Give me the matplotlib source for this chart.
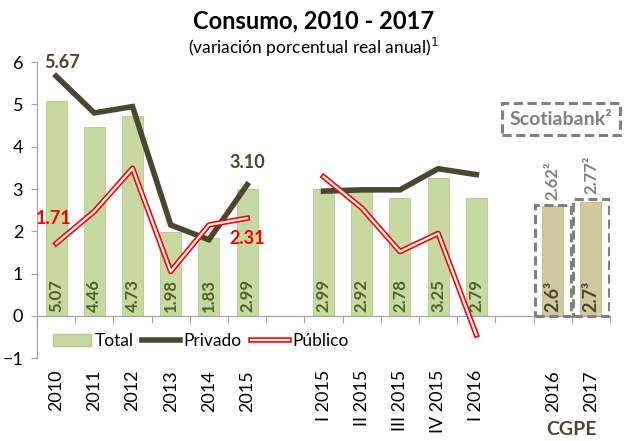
import matplotlib
matplotlib.use("Agg")
import matplotlib.pyplot as plt
from matplotlib.lines import Line2D
from matplotlib.patches import Patch
import numpy as np

plt.rcParams['font.family'] = ['Lato', 'DejaVu Sans']

# data
categories = ["2010", "2011", "2012", "2013", "2014", "2015", "",
              "I 2015", "II 2015", "III 2015", "IV 2015", "I 2016", "",
              "2016", "2017"]
total = [5.07, 4.46, 4.73, 1.98, 1.83, 2.99, None,
         2.99, 2.92, 2.78, 3.25, 2.79, None, None, None]
total_labels = ["5.07", "4.46", "4.73", "1.98", "1.83", "2.99", "",
                "2.99", "2.92", "2.78", "3.25", "2.79", "", "", ""]
privado_anual = [5.67, 4.80, 4.95, 2.15, 1.80, 3.10]
publico_anual = [1.71, 2.47, 3.49, 1.05, 2.15, 2.31]
privado_trim = [2.95, 2.98, 2.98, 3.48, 3.34]
publico_trim = [3.29, 2.55, 1.52, 1.95, -0.45]
cgpe = [2.6, 2.7]
cgpe_labels = ["2.6³", "2.7³"]
scotia = [2.62, 2.77]
scotia_labels = ["2.62²", "2.77²"]

GREEN = "#c6d9a0"
TAN = "#d2c8a0"
OLIVE = "#4a4630"
LABEL_GREEN = "#4f6228"
GRAY = "#808080"

fig = plt.figure(figsize=(6.27, 4.41), dpi=100)
ax = fig.add_axes([0.059, 0.188, 0.914, 0.671])

x = np.arange(len(categories))

# Total bars
for i, v in enumerate(total):
    if v is None:
        continue
    ax.bar(x[i], v, width=0.55, color=GREEN, edgecolor="#b5c98a", linewidth=0.6, zorder=2)
    ax.text(x[i], 0.08, total_labels[i], rotation=90, ha="center", va="bottom",
            fontsize=12, fontweight="bold", color=LABEL_GREEN, zorder=5)

# CGPE bars + Scotiabank dashed boxes
cg_x = x[13:15]
ax.bar(cg_x, cgpe, width=0.55, color=TAN, edgecolor="#bfb68e", linewidth=0.6, zorder=2)
ax.bar(cg_x, scotia, width=0.95, fill=False, edgecolor=GRAY, linestyle=(0, (3, 1.5)),
       linewidth=2.2, zorder=3)
for xi, lab in zip(cg_x, cgpe_labels):
    ax.text(xi, 0.08, lab, rotation=90, ha="center", va="bottom",
            fontsize=13, fontweight="bold", color=OLIVE, zorder=5)
for xi, v, lab in zip(cg_x, scotia, scotia_labels):
    ax.text(xi, v + 0.12, lab, rotation=90, ha="center", va="bottom",
            fontsize=12, fontweight="bold", color=GRAY, zorder=5)

# Privado lines
ax.plot(x[0:6], privado_anual, color=OLIVE, linewidth=4, solid_joinstyle="miter", zorder=4)
ax.plot(x[7:12], privado_trim, color=OLIVE, linewidth=4, solid_joinstyle="miter", zorder=4)

# Publico lines (double red line)
for xs, ys in [(x[0:6], publico_anual), (x[7:12], publico_trim)]:
    ax.plot(xs, ys, color="red", linewidth=4, zorder=4)
    ax.plot(xs, ys, color="white", linewidth=1.6, zorder=4)

# point labels
ax.text(x[0] + 0.15, privado_anual[0] + 0.12, "5.67", ha="center", va="bottom",
        fontsize=13, fontweight="bold", color=OLIVE)
ax.text(x[5], privado_anual[5] + 0.33, "3.10", ha="center", va="bottom",
        fontsize=13, fontweight="bold", color=OLIVE)
ax.text(x[0] - 0.05, publico_anual[0] + 0.38, "1.71", ha="center", va="bottom",
        fontsize=13, fontweight="bold", color="red", zorder=6)
ax.text(x[5], publico_anual[5] - 0.27, "2.31", ha="center", va="top",
        fontsize=13, fontweight="bold", color="red", zorder=6)

# axes styling
ax.set_xlim(-0.5, len(categories) - 0.5)
ax.set_ylim(-1, 6)
ax.set_yticks(range(-1, 7))
ax.tick_params(axis="y", labelsize=13, length=4, color="#a0a0a0", pad=6)
ax.spines["top"].set_visible(False)
ax.spines["right"].set_visible(False)
ax.spines["left"].set_color("#a0a0a0")
ax.spines["bottom"].set_position(("data", 0))
ax.spines["bottom"].set_color("#a0a0a0")
ax.set_xticks(np.arange(-0.5, len(categories), 1.0))
ax.set_xticklabels([])
ax.tick_params(axis="x", length=5, color="#a0a0a0", direction="out")

for xi, lab in zip(x, categories):
    if lab:
        ax.text(xi, -0.04, lab, rotation=90, ha="center", va="top", fontsize=13,
                transform=ax.get_xaxis_transform(), color="black")

fig.text(0.912, 0.025, "CGPE", ha="center", va="center", fontsize=14,
         fontweight="bold", color=OLIVE)

# legend
handles = [
    Patch(facecolor=GREEN, edgecolor="#b5c98a"),
    Line2D([], [], color=OLIVE, linewidth=4),
    (Line2D([], [], color="red", linewidth=4), Line2D([], [], color="white", linewidth=1.6)),
]
ax.legend(handles, ["Total", "Privado", "Público"], loc="center",
          bbox_to_anchor=(0.32, 0.227), bbox_transform=fig.transFigure, ncol=3,
          frameon=False, fontsize=12.5, handlelength=2.2, handletextpad=0.2,
          columnspacing=0.5)

# Scotiabank box
fig.text(0.895, 0.73, "Scotiabank²", ha="center", va="center", fontsize=14,
         fontweight="bold", color=GRAY,
         bbox=dict(boxstyle="square,pad=0.4", facecolor="white", edgecolor=GRAY,
                   linestyle=(0, (3, 1.5)), linewidth=2.2))

# title
fig.text(0.5, 0.953, "Consumo, 2010 - 2017", ha="center", va="center",
         fontsize=17, fontweight="bold")
fig.text(0.5, 0.893, "(variación porcentual real anual)$^1$", ha="center", va="center",
         fontsize=12.5)

fig.savefig("out.png", dpi=100)
